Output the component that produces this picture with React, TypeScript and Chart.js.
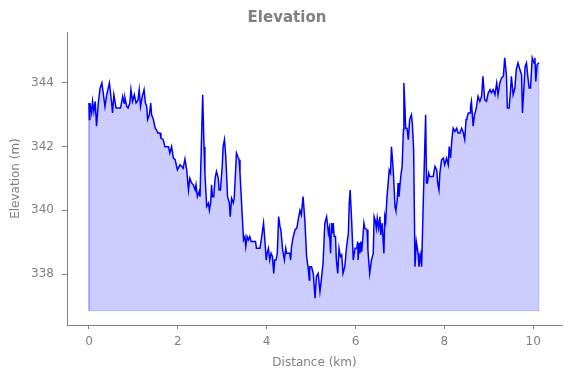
import React, { useEffect, useRef } from "react";
import { Chart, registerables } from "chart.js";

Chart.register(...registerables);

const distanceKm: number[] = [
  0.00, 0.01, 0.02, 0.06, 0.08, 0.11, 0.14, 0.17, 0.21, 0.25, 0.29, 0.32, 0.36, 0.40, 0.46, 0.51, 0.53, 0.56, 0.61, 0.66,
  0.71, 0.76, 0.79, 0.81, 0.85, 0.88, 0.92, 0.945, 0.98, 1.02, 1.06, 1.10, 1.13, 1.16, 1.20, 1.24, 1.27, 1.30, 1.32, 1.36,
  1.39, 1.41, 1.45, 1.49, 1.52, 1.55, 1.60, 1.62, 1.67, 1.71, 1.79, 1.82, 1.86, 1.90, 1.94, 1.99, 2.05, 2.09, 2.12, 2.16,
  2.20, 2.24, 2.27, 2.31, 2.35, 2.39, 2.41, 2.44, 2.48, 2.50, 2.56, 2.59, 2.61, 2.65, 2.69, 2.71, 2.74, 2.76, 2.78, 2.81,
  2.84, 2.87, 2.91, 2.93, 2.96, 3.00, 3.02, 3.05, 3.08, 3.10, 3.12, 3.16, 3.18, 3.21, 3.25, 3.27, 3.32, 3.35, 3.38, 3.40,
  3.42, 3.46, 3.48, 3.51, 3.53, 3.56, 3.59, 3.62, 3.65, 3.70, 3.75, 3.77, 3.85, 3.89, 3.93, 3.96, 3.99, 4.01, 4.04, 4.07,
  4.10, 4.13, 4.16, 4.18, 4.21, 4.24, 4.27, 4.30, 4.32, 4.36, 4.40, 4.43, 4.45, 4.52, 4.54, 4.56, 4.60, 4.64, 4.68, 4.71,
  4.75, 4.78, 4.82, 4.86, 4.90, 4.94, 4.96, 4.97, 5.01, 5.05, 5.09, 5.12, 5.16, 5.20, 5.23, 5.27, 5.31, 5.35, 5.39, 5.41,
  5.44, 5.46, 5.48, 5.50, 5.52, 5.55, 5.57, 5.60, 5.63, 5.66, 5.69, 5.72, 5.76, 5.80, 5.84, 5.86, 5.88, 5.91, 5.95, 5.99,
  6.03, 6.05, 6.06, 6.08, 6.10, 6.12, 6.14, 6.16, 6.19, 6.21, 6.26, 6.28, 6.32, 6.36, 6.40, 6.42, 6.45, 6.47, 6.49, 6.52,
  6.55, 6.57, 6.60, 6.64, 6.66, 6.68, 6.71, 6.76, 6.79, 6.81, 6.85, 6.89, 6.91, 6.94, 6.96, 6.98, 7.02, 7.05, 7.08, 7.09,
  7.11, 7.13, 7.16, 7.19, 7.22, 7.26, 7.28, 7.31, 7.34, 7.37, 7.41, 7.43, 7.47, 7.49, 7.52, 7.58, 7.60, 7.62, 7.65, 7.67,
  7.71, 7.75, 7.79, 7.83, 7.85, 7.88, 7.90, 7.94, 7.98, 8.01, 8.05, 8.09, 8.11, 8.14, 8.17, 8.20, 8.24, 8.28, 8.31, 8.35,
  8.39, 8.42, 8.46, 8.49, 8.51, 8.54, 8.58, 8.59, 8.61, 8.65, 8.68, 8.72, 8.76, 8.80, 8.84, 8.87, 8.91, 8.95, 8.99, 9.03,
  9.06, 9.10, 9.14, 9.18, 9.21, 9.25, 9.29, 9.33, 9.36, 9.40, 9.42, 9.46, 9.49, 9.51, 9.55, 9.59, 9.62, 9.66, 9.70, 9.74,
  9.76, 9.79, 9.82, 9.85, 9.88, 9.91, 9.94, 9.98, 10.02, 10.04, 10.06, 10.09, 10.13,
];

const elevationM: number[] = [
  343.37, 342.85, 343.37, 343.06, 343.42, 343.11, 343.42, 342.64, 343.37, 343.84, 344.0, 343.69, 343.26, 343.63, 344.0, 343.37, 343.06, 343.63, 343.21, 343.21,
  343.21, 343.58, 343.37, 343.53, 343.26, 343.21, 343.37, 343.79, 343.42, 343.63, 343.37, 343.45, 343.79, 343.26, 343.58, 343.79, 343.37, 343.26, 342.85, 343.0,
  343.37, 343.0, 342.85, 342.58, 342.53, 342.43, 342.43, 342.27, 342.22, 342.0, 342.0, 341.8, 342.0, 341.64, 341.59, 341.27, 341.43, 341.38, 341.32, 341.61,
  341.27, 340.64, 341.01, 340.86, 340.8, 340.64, 340.8, 340.43, 340.59, 340.43, 343.63, 342.0, 341.17, 340.12, 340.23, 340.0, 340.23, 340.8, 340.43, 340.43,
  341.01, 341.22, 341.01, 340.64, 340.64, 341.38, 342.0, 342.22, 341.69, 341.06, 340.43, 340.23, 339.8, 340.38, 340.23, 340.38, 341.8, 341.69, 341.59, 341.17,
  340.64, 339.6, 339.07, 339.18, 338.86, 339.18, 339.07, 339.18, 339.02, 339.02, 339.02, 338.81, 338.81, 339.18, 339.6, 339.07, 338.44, 338.65, 338.81, 338.44,
  338.65, 338.55, 338.02, 338.44, 338.44, 338.65, 339.8, 339.49, 339.39, 338.76, 338.44, 338.81, 338.65, 338.65, 338.44, 338.86, 339.18, 339.39, 339.44, 339.7,
  340.0, 339.86, 340.43, 339.7, 338.55, 338.13, 337.81, 338.23, 338.23, 338.02, 337.24, 337.92, 338.02, 337.45, 337.81, 338.34, 339.6, 339.8, 339.28, 339.44,
  338.65, 339.6, 339.28, 339.6, 339.18, 339.18, 338.44, 338.02, 338.81, 338.55, 338.6, 338.02, 338.23, 338.86, 339.28, 340.23, 340.64, 339.8, 338.44, 338.81,
  338.81, 339.02, 338.44, 338.97, 338.65, 339.02, 338.7, 339.02, 339.6, 339.44, 339.39, 338.76, 338.02, 338.44, 338.65, 339.8, 339.65, 339.44, 339.75, 339.44,
  339.8, 339.23, 339.6, 338.65, 339.8, 339.65, 340.43, 341.27, 341.17, 342.0, 341.27, 340.12, 340.0, 340.33, 340.86, 340.43, 341.06, 341.38, 342.53, 344.0,
  343.37, 342.58, 342.58, 342.22, 342.85, 343.0, 342.74, 341.9, 338.23, 339.02, 338.65, 338.23, 338.6, 338.23, 339.91, 343.0, 340.86, 340.86, 341.17, 341.06,
  341.06, 341.06, 341.38, 341.27, 340.86, 340.64, 341.17, 341.59, 341.64, 341.43, 341.64, 341.43, 342.0, 341.64, 342.22, 342.58, 342.48, 342.58, 342.43, 342.43,
  342.58, 342.48, 342.22, 342.85, 342.9, 343.06, 343.06, 343.26, 343.42, 342.64, 343.0, 343.21, 343.58, 343.42, 343.58, 344.21, 343.47, 343.42, 343.69, 343.79,
  343.69, 343.79, 343.63, 344.0, 343.63, 344.0, 344.16, 344.21, 344.79, 344.21, 343.21, 343.21, 343.74, 344.21, 343.63, 343.84, 344.42, 344.63, 344.42, 344.26,
  343.06, 343.79, 344.52, 344.63, 344.21, 343.84, 343.84, 344.79, 344.63, 344.79, 344.05, 344.58, 344.63,
];

const fillBaseM = 336.85;
const xTicks: number[] = [0, 2, 4, 6, 8, 10];
const yTicks: number[] = [338, 340, 342, 344];
const titleText = "Elevation";
const xLabel = "Distance (km)";
const yLabel = "Elevation (m)";

const GRAY = "#808080";
const FONT = "'DejaVu Sans', sans-serif";

const titlePlugin = {
  id: "centeredTitle",
  afterDraw(chart: any) {
    const ctx = chart.ctx;
    ctx.save();
    ctx.fillStyle = GRAY;
    ctx.font = `bold 15px ${FONT}`;
    ctx.textAlign = "center";
    ctx.textBaseline = "middle";
    ctx.fillText(titleText, 287, 18);
    ctx.restore();
  },
};

export default function App() {
  const ref = useRef<HTMLCanvasElement | null>(null);

  useEffect(() => {
    document.body.style.margin = "0";
    const canvas = ref.current;
    if (!canvas) return;
    const points = distanceKm.map((x, i) => ({ x, y: elevationM[i] }));
    const first = points[0];
    const last = points[points.length - 1];
    const edge = [
      { x: first.x, y: first.y },
      { x: first.x, y: fillBaseM },
      { x: last.x, y: fillBaseM },
      { x: last.x, y: last.y },
    ];
    const chart = new Chart(canvas, {
      type: "line",
      data: {
        datasets: [
          {
            data: points,
            borderColor: "#0000ff",
            borderWidth: 1.5,
            pointRadius: 0,
            tension: 0,
            fill: { value: fillBaseM },
            backgroundColor: "rgba(0,0,255,0.2)",
            order: 1,
          },
          {
            data: edge,
            borderColor: "rgba(0,0,255,0.2)",
            borderWidth: 1,
            pointRadius: 0,
            fill: false,
            order: 2,
          },
        ],
      },
      plugins: [titlePlugin],
      options: {
        responsive: false,
        animation: false,
        layout: { padding: { left: 0, right: 9, top: 32, bottom: 0 } },
        plugins: {
          legend: { display: false },
          tooltip: { enabled: false },
          title: { display: false },
        },
        scales: {
          x: {
            type: "linear",
            min: -0.495,
            max: 10.65,
            afterBuildTicks: (s: any) => {
              s.ticks = xTicks.map((v) => ({ value: v }));
            },
            afterFit: (s: any) => {
              s.height = 53;
            },
            ticks: {
              color: GRAY,
              font: { family: FONT, size: 12 },
              padding: 6,
              maxRotation: 0,
              autoSkip: false,
            },
            grid: {
              drawOnChartArea: false,
              drawTicks: true,
              tickLength: 4,
              color: GRAY,
            },
            border: { display: true, color: GRAY, width: 1 },
            title: {
              display: true,
              text: xLabel,
              color: GRAY,
              font: { family: FONT, size: 12 },
              padding: { top: 8, bottom: 8 },
            },
          },
          y: {
            type: "linear",
            min: 336.4,
            max: 345.6,
            afterBuildTicks: (s: any) => {
              s.ticks = yTicks.map((v) => ({ value: v }));
            },
            afterFit: (s: any) => {
              s.width = 67;
            },
            ticks: {
              color: GRAY,
              font: { family: FONT, size: 12 },
              padding: 8,
              autoSkip: false,
            },
            grid: {
              drawOnChartArea: false,
              drawTicks: true,
              tickLength: 5,
              color: GRAY,
            },
            border: { display: true, color: GRAY, width: 1 },
            title: {
              display: true,
              text: yLabel,
              color: GRAY,
              font: { family: FONT, size: 12 },
              padding: { top: 9, bottom: 9 },
            },
          },
        },
      },
    });
    return () => chart.destroy();
  }, []);

  return (
    <div style={{ width: 571, height: 378 }}>
      <canvas ref={ref} width={571} height={378} style={{ display: "block" }} />
    </div>
  );
}
